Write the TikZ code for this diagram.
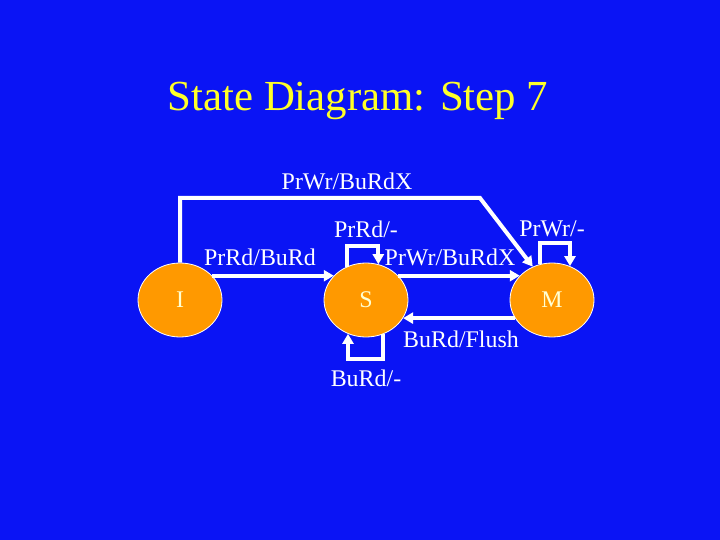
\documentclass[tikz,border=0pt]{standalone}
\usepackage{fontspec}
\setmainfont{Liberation Serif}
\usetikzlibrary{arrows.meta,shapes.geometric}
\definecolor{slideblue}{RGB}{10,20,245}
\definecolor{stateorange}{RGB}{255,153,0}
\definecolor{titleyellow}{RGB}{255,255,40}
\definecolor{statetext}{RGB}{255,255,210}
\begin{document}
\begin{tikzpicture}[x=1bp,y=-1bp,line width=4bp,
  state/.style={ellipse,draw=white,line width=.8bp,fill=stateorange,minimum width=84bp,minimum height=74bp,inner sep=0pt,text=statetext,font=\fontsize{24}{28}\selectfont},
  wire/.style={draw=white,line width=4bp,-{Triangle[length=10bp,width=11bp]}},
  lbl/.style={text=white,inner sep=0pt,font=\fontsize{24}{28}\selectfont}]
\fill[slideblue] (0,0) rectangle (720,540);
\useasboundingbox (0,0) rectangle (720,540);
\node[text=titleyellow,font=\fontsize{43}{50}\selectfont] (title) at (358,101) {State Diagram: Step 7};
\node[state] (I) at (180,300) {I};
\node[state] (S) at (366,300) {S};
\node[state] (M) at (552,300) {M};
\coordinate (bend) at (480,198);
\draw[wire] (I.north) |- (bend) -- (M.120);
\draw[wire] (I.37) -- (S.143);
\draw[wire] (S.37) -- (M.143);
\draw[wire] (M.206) -- (S.334);
\draw[wire] (S.120) -- ++(0,-21) -| (S.71);
\draw[wire] (M.109) -- ++(0,-21) -| (M.62);
\draw[wire] (S.297) -- ++(0,25) -| (S.242);
\node[lbl] (l1) at (347,181) {PrWr/BuRdX};
\node[lbl] (l2) at (260,257) {PrRd/BuRd};
\node[lbl] (l3) at (366,229) {PrRd/-};
\node[lbl] (l4) at (450,257) {PrWr/BuRdX};
\node[lbl] (l5) at (552,229) {PrWr/-};
\node[lbl] (l6) at (461,339) {BuRd/Flush};
\node[lbl] (l7) at (366,378) {BuRd/-};
\end{tikzpicture}
\end{document}
